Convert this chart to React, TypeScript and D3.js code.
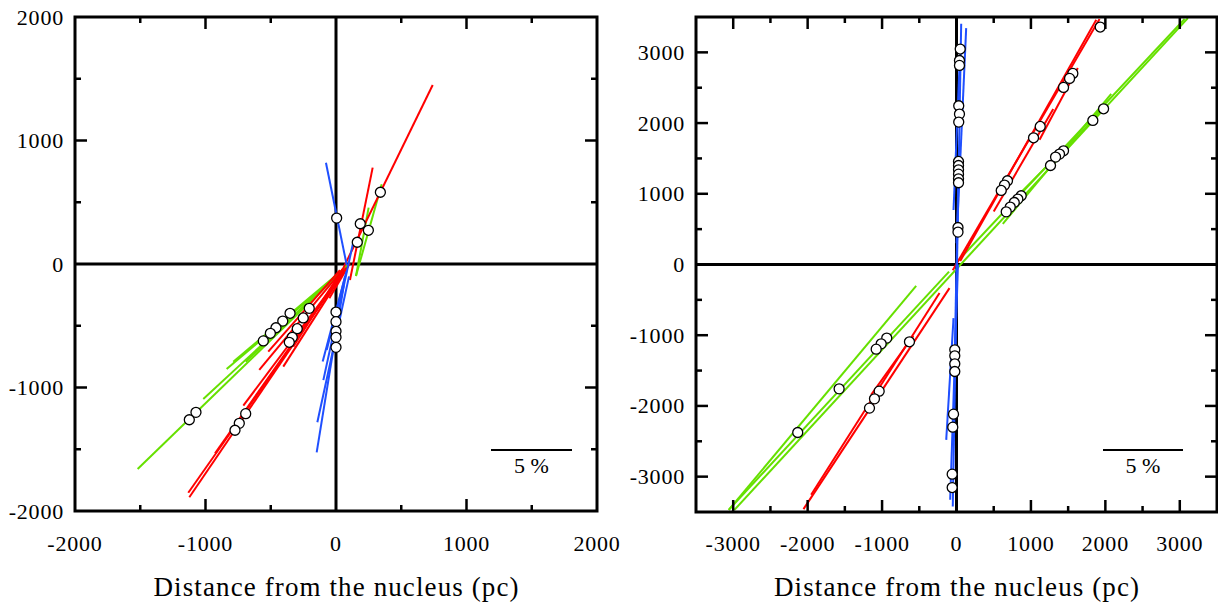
import React from "react";
import * as d3 from "d3";

type Seg = [number, number, number, number];
type Pt = [number, number];

// ---------- Left panel data ----------
const leftTicks = [-2000, -1000, 0, 1000, 2000];
const leftGreen: Seg[] = [
  [-1520, -1660, 94, -8],
  [-1017, -1093, 94, -8],
  [-838, -850, 90, -20],
  [-787, -791, 70, -30],
  [-692, -791, 60, -40],
  [153, -97, 250, 456],
  [153, -97, 350, 645],
];
const leftRed: Seg[] = [
  [25, -100, 741, 1449],
  [107, -130, 281, 780],
  [-51, -278, 107, 6],
  [-1132, -1852, 80, -30],
  [-1124, -1889, 60, -50],
  [-927, -1533, 70, -40],
  [-710, -1147, 60, -60],
  [-588, -858, 40, -60],
  [-519, -710, 30, -50],
  [-404, -831, 50, -80],
  [-327, -670, 50, -40],
];
const leftBlue: Seg[] = [
  [-77, 820, 82, -8],
  [-148, -1525, 60, -170],
  [-143, -1282, 100, -100],
  [-97, -940, 133, 181],
  [-102, -790, 80, -60],
  [-71, -696, 70, -100],
];
const leftCircles: Pt[] = [
  [5, 372], [186, 326], [248, 273], [163, 176], [340, 581],
  [-352, -399], [-408, -462], [-460, -516], [-503, -561], [-557, -623],
  [-205, -359], [-251, -437], [-297, -524], [-335, -594], [-358, -634],
  [0, -389], [0, -467], [0, -545], [0, -594], [0, -675],
  [-1073, -1201], [-1124, -1261],
  [-692, -1212], [-741, -1290], [-774, -1346],
];

// ---------- Right panel data ----------
const rightTicks = [-3000, -2000, -1000, 0, 1000, 2000, 3000];
const rightGreen: Seg[] = [
  [-2984, -3470, 3109, 3485],
  [-3060, -3470, -100, -100],
  [-542, -301, -3060, -3470],
  [622, 575, 2079, 2414],
  [0, 30, 3065, 3471],
  [800, 950, 1300, 1480],
  [1300, 1420, 2000, 2250],
];
const rightRed: Seg[] = [
  [-2056, -3460, -94, -334],
  [-1953, -3257, -228, -402],
  [-1147, -1843, -580, -1010],
  [-50, -80, 1922, 3471],
  [50, 50, 1878, 3461],
  [1116, 1765, 1630, 2778],
  [500, 750, 1300, 2200],
];
const rightBlue: Seg[] = [
  [-50, -3423, 63, 3404],
  [-85, -3328, 20, 0],
  [-138, -2480, -40, -758],
  [0, 300, 130, 3343],
  [-40, 770, 40, 2800],
  [-30, -1600, 30, 1500],
];
const rightCircles: Pt[] = [
  [50, 3047], [40, 2885], [40, 2815], [30, 2245], [40, 2127], [30, 2014],
  [27, 1457], [27, 1400], [27, 1339], [27, 1278], [27, 1212], [27, 1156],
  [20, 523], [20, 458],
  [1931, 3358], [1563, 2702], [1519, 2631], [1438, 2504], [1125, 1952],
  [1035, 1792], [685, 1184], [645, 1123], [601, 1047],
  [1976, 2202], [1832, 2037], [1438, 1608], [1384, 1561], [1331, 1519],
  [1263, 1400], [869, 972], [824, 925], [776, 877], [722, 812], [668, 745],
  [-937, -1041], [-1012, -1122], [-1079, -1197], [-1577, -1758], [-2133, -2376],
  [-632, -1093], [-1039, -1791], [-1102, -1900], [-1169, -2031],
  [-23, -1207], [-23, -1291], [-23, -1405], [-23, -1513],
  [-40, -2116], [-50, -2300], [-58, -2965], [-58, -3154],
];

const GREEN = "#66e000";
const RED = "#ff0000";
const BLUE = "#1f4fff";
const textStyle: React.CSSProperties = { fontFamily: "Liberation Serif, Times New Roman, Times, serif" };

interface PanelProps {
  xDomain: [number, number];
  yDomain: [number, number];
  xRange: [number, number];
  yRange: [number, number];
  ticks: number[];
  green: Seg[];
  red: Seg[];
  blue: Seg[];
  circles: Pt[];
  clipId: string;
  scaleBar: [number, number];
}

function Panel(p: PanelProps) {
  const x = d3.scaleLinear().domain(p.xDomain).range(p.xRange);
  const y = d3.scaleLinear().domain(p.yDomain).range(p.yRange);
  const [x0, x1] = p.xRange;
  const [yb, yt] = p.yRange;
  const minor: number[] = [];
  for (let v = p.xDomain[0]; v <= p.xDomain[1]; v += 500) {
    if (v > p.xDomain[0] && v < p.xDomain[1] && v !== 0) minor.push(v);
  }
  const minorY: number[] = [];
  for (let v = p.yDomain[0]; v <= p.yDomain[1]; v += 500) {
    if (v > p.yDomain[0] && v < p.yDomain[1] && v !== 0) minorY.push(v);
  }
  const len = (v: number) => (v % 1000 === 0 ? 12 : 6);
  const segs = (arr: Seg[], color: string) =>
    arr.map((s, i) => (
      <line
        key={color + i}
        x1={x(s[0])}
        y1={y(s[1])}
        x2={x(s[2])}
        y2={y(s[3])}
        stroke={color}
        strokeWidth={2}
      />
    ));
  return (
    <g>
      <defs>
        <clipPath id={p.clipId}>
          <rect x={x0} y={yt} width={x1 - x0} height={yb - yt} />
        </clipPath>
      </defs>
      <line x1={x0} x2={x1} y1={y(0)} y2={y(0)} stroke="#000" strokeWidth={3} />
      <line x1={x(0)} x2={x(0)} y1={yt} y2={yb} stroke="#000" strokeWidth={3} />
      <g clipPath={`url(#${p.clipId})`}>
        {segs(p.green, GREEN)}
        {segs(p.red, RED)}
        {segs(p.blue, BLUE)}
        {p.circles.map((c, i) => (
          <circle key={i} cx={x(c[0])} cy={y(c[1])} r={5} fill="#fff" stroke="#000" strokeWidth={1.3} />
        ))}
      </g>
      {minor.map((v) => (
        <g key={"xt" + v}>
          <line x1={x(v)} x2={x(v)} y1={yt} y2={yt + len(v)} stroke="#000" strokeWidth={2.5} />
          <line x1={x(v)} x2={x(v)} y1={yb} y2={yb - len(v)} stroke="#000" strokeWidth={2.5} />
        </g>
      ))}
      {minorY.map((v) => (
        <g key={"yt" + v}>
          <line x1={x0} x2={x0 + len(v)} y1={y(v)} y2={y(v)} stroke="#000" strokeWidth={2.5} />
          <line x1={x1} x2={x1 - len(v)} y1={y(v)} y2={y(v)} stroke="#000" strokeWidth={2.5} />
        </g>
      ))}
      <rect x={x0} y={yt} width={x1 - x0} height={yb - yt} fill="none" stroke="#000" strokeWidth={3} />
      {p.ticks.map((v) => (
        <text key={"xl" + v} x={x(v)} y={551} textAnchor="middle" style={textStyle} fontSize={22} letterSpacing={0.8}>
          {v}
        </text>
      ))}
      {p.ticks.map((v) => (
        <text key={"yl" + v} x={x0 - 11} y={y(v) + 7.5} textAnchor="end" style={textStyle} fontSize={22} letterSpacing={0.8}>
          {v}
        </text>
      ))}
      <text
        x={x(0)}
        y={596}
        textAnchor="middle"
        style={textStyle}
        fontSize={27}
        textLength={365}
        lengthAdjust="spacing"
      >
        Distance from the nucleus (pc)
      </text>
      <line x1={p.scaleBar[0]} x2={p.scaleBar[1]} y1={450} y2={450} stroke="#000" strokeWidth={2.2} />
      <text x={(p.scaleBar[0] + p.scaleBar[1]) / 2} y={473} textAnchor="middle" style={textStyle} fontSize={22}>
        5 %
      </text>
    </g>
  );
}

export default function App() {
  return (
    <svg width={1218} height={602} style={{ position: "absolute", left: 0, top: 0, background: "#fff" }}>
      <rect width={1218} height={602} fill="#fff" />
      <Panel
        xDomain={[-2000, 2000]}
        yDomain={[-2000, 2000]}
        xRange={[75, 597]}
        yRange={[511, 17]}
        ticks={leftTicks}
        green={leftGreen}
        red={leftRed}
        blue={leftBlue}
        circles={leftCircles}
        clipId="clipL"
        scaleBar={[491, 572]}
      />
      <Panel
        xDomain={[-3500, 3500]}
        yDomain={[-3500, 3500]}
        xRange={[696, 1217]}
        yRange={[512, 17]}
        ticks={rightTicks}
        green={rightGreen}
        red={rightRed}
        blue={rightBlue}
        circles={rightCircles}
        clipId="clipR"
        scaleBar={[1103, 1183]}
      />
    </svg>
  );
}
